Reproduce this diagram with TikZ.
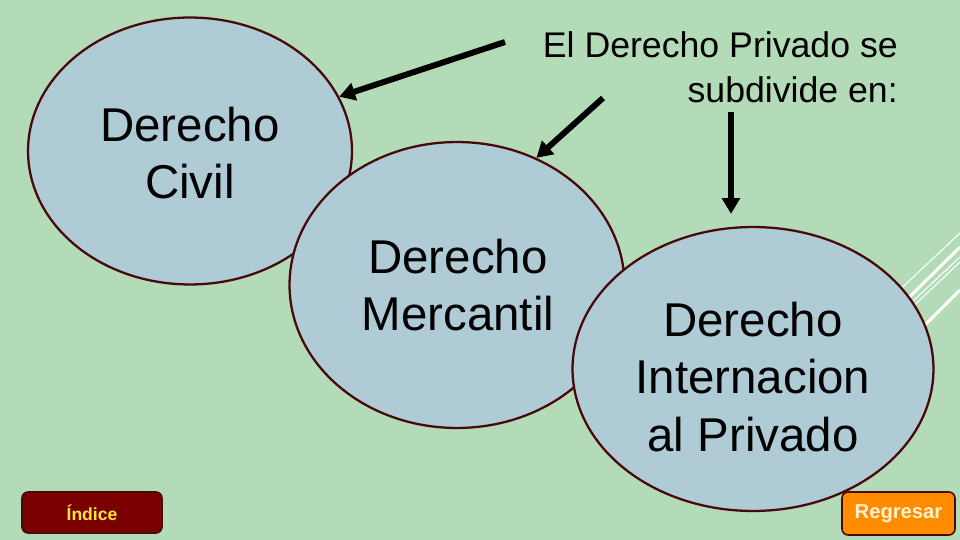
\documentclass[tikz,border=0pt]{standalone}
\usepackage{fontspec}
\setmainfont{Liberation Sans}
\usetikzlibrary{shapes.geometric,arrows.meta,calc}
\definecolor{bg}{RGB}{180,219,184}
\definecolor{ellfill}{RGB}{174,203,214}
\definecolor{ellborder}{RGB}{72,8,12}
\definecolor{indfill}{RGB}{122,0,0}
\definecolor{indtext}{RGB}{255,228,60}
\definecolor{regfill}{RGB}{255,140,0}
\definecolor{regtext}{RGB}{255,242,205}
\tikzset{
  bubble/.style={ellipse, draw=ellborder, fill=ellfill, line width=1.3pt, inner sep=0pt},
  bigtext/.style={font=\fontsize{27}{32.5}\selectfont, align=center, text=black},
  titletext/.style={font=\fontsize{20.3}{25.5}\selectfont, align=right, text=black},
  bigarrow/.style={line width=3.4pt, -{Triangle[length=9pt,width=10pt]}},
  deco/.style={draw=white},
  navbtn/.style={rounded corners=3.5pt, line width=0.9pt}
}
\begin{document}
\begin{tikzpicture}[x=0.02cm,y=-0.02cm]
\fill[bg] (0,0) rectangle (960,540);
\useasboundingbox (0,0) rectangle (960,540);

% decorative lines
\draw[deco, line width=0.6pt] (873,315) -- (960,233);
\draw[deco, line width=1.7pt] (878,328) -- (960,247);
\draw[deco, line width=0.6pt] (882,330) -- (960,257);
\draw[deco, line width=0.6pt] (886,332) -- (960,262);
\draw[deco, line width=1.7pt] (895,355) -- (960,290);

\node[bubble, minimum width=6.48cm, minimum height=5.34cm] (civil) at (190,151) {};
\node[bubble, minimum width=6.7cm, minimum height=5.72cm] (merc) at (457,285) {};
\node[bubble, minimum width=7.22cm, minimum height=5.68cm] (intl) at (753,369) {};

\node[bigtext] (civilT) at (190,153) {Derecho\\Civil};
\node[bigtext] (mercT) at (458,285) {Derecho\\Mercantil};
\node[bigtext] (intlT) at (753,377) {Derecho\\Internacion\\al Privado};

\node[titletext, anchor=east] (title) at (904,67) {El Derecho Privado se\\subdivide en:};

\coordinate (a1s) at (505,42);
\coordinate (a2s) at (603,98);
\coordinate (a3s) at (731,112);
\draw[bigarrow] (a1s) -- (civil.20);
\draw[bigarrow] (a2s) -- (merc.58);
\draw[bigarrow] (a3s) -- ($(intl.north)+(-22,-12)$);

\node[navbtn, draw=ellborder, fill=indfill, text=indtext, font=\bfseries\fontsize{10}{12}\selectfont,
      minimum width=2.8cm, minimum height=0.82cm] (indice) at (92,512.5) {Índice};
\node[navbtn, draw=ellborder, fill=regfill, text=regtext, font=\bfseries\fontsize{11.5}{14}\selectfont,
      minimum width=2.26cm, minimum height=0.86cm] (regresar) at (898.5,513.5) {Regresar};
\end{tikzpicture}
\end{document}
